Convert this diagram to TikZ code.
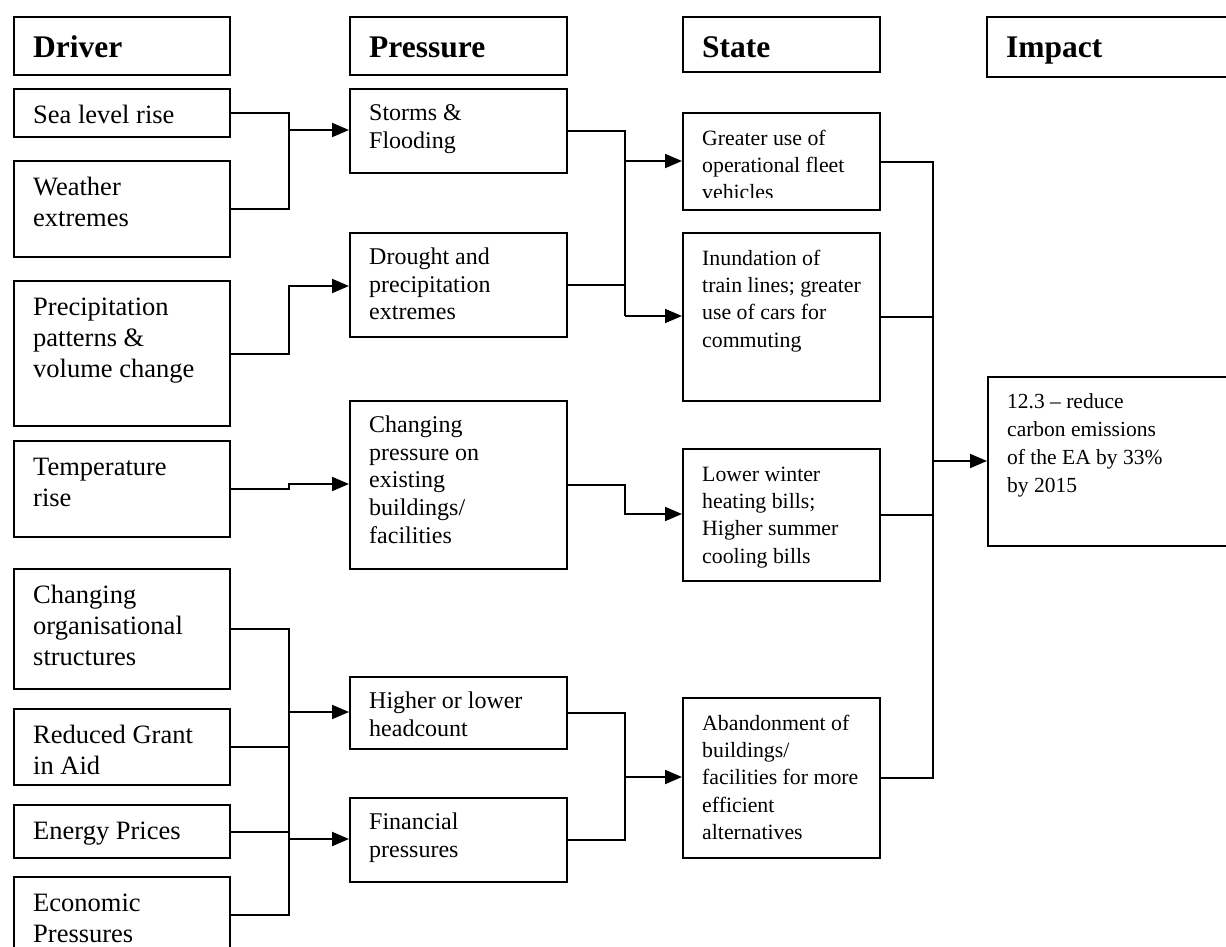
\documentclass[tikz,border=0pt]{standalone}
\usepackage{fontspec}
\setmainfont{Liberation Serif}
\usetikzlibrary{arrows.meta}

% \cell{name}{text style}{x1}{y1}{x2}{y2}{text}: framed box with top-left text
\newcommand\cell[7]{%
  \node[frame, anchor=north west, minimum width={#5-#3}, minimum height={#6-#4}] (#1) at (#3,#4) {};
  \node[lbl, #2] (#1-t) at ([xshift=20pt]#1.north west) {\strut #7};
}

\begin{document}
\begin{tikzpicture}[x=1pt, y=-1pt,
  frame/.style={draw, rectangle, line width=2pt, inner sep=0pt},
  lbl/.style={anchor=north west, align=left, inner sep=0pt},
  link/.style={line width=2pt},
  flow/.style={link, -{Triangle[length=17pt, width=14pt]}},
  hdr/.style={font=\bfseries\fontsize{31.5}{36}\selectfont, yshift=-15.8pt},
  drv/.style={font=\fontsize{26.5}{31}\selectfont, yshift=-13.3pt},
  prs/.style={font=\fontsize{24}{27.7}\selectfont, yshift=-12.9pt},
  sta/.style={font=\fontsize{21.8}{27.3}\selectfont, yshift=-13.8pt},
  imp/.style={font=\fontsize{21.5}{28}\selectfont, yshift=-12.4pt}]

\useasboundingbox (0,0) rectangle (1226,947);
\clip (0,0) rectangle (1226,947);

% column headers
\cell{hD}{hdr}{13}{16}{229}{74}{Driver}
\cell{hP}{hdr}{349}{16}{566}{74}{Pressure}
\cell{hS}{hdr}{682}{16}{879}{71}{State}
\cell{hI}{hdr}{986}{16}{1250}{76}{Impact}

% drivers
\cell{sea}{drv}{13}{88}{229}{136}{Sea level rise}
\cell{weather}{drv}{13}{160}{229}{256}{Weather\\extremes}
\cell{precip}{drv}{13}{280}{229}{425}{Precipitation\\patterns \&\\volume change}
\cell{temp}{drv}{13}{440}{229}{536}{Temperature\\rise}
\cell{org}{drv}{13}{568}{229}{688}{Changing\\organisational\\structures}
\cell{grant}{drv}{13}{708}{229}{784}{Reduced Grant\\in Aid}
\cell{energy}{drv}{13}{804}{229}{857}{Energy Prices}
\cell{econ}{drv}{13}{876}{229}{952}{Economic\\Pressures}

% pressures
\cell{storms}{prs}{349}{88}{566}{172}{Storms \&\\Flooding}
\cell{drought}{prs}{349}{232}{566}{336}{Drought and\\precipitation\\extremes}
\cell{chgp}{prs}{349}{400}{566}{568}{Changing\\pressure on\\existing\\buildings/\\facilities}
\cell{headc}{prs}{349}{676}{566}{748}{Higher or lower\\headcount}
\cell{fin}{prs}{349}{797}{566}{881}{Financial\\pressures}

% states
\node[frame, anchor=north west, minimum width=197, minimum height=97] (greater) at (682,112) {};
\begin{scope}
  \clip (682,112) rectangle (879,197);
  \node[lbl, sta] (greater-t) at ([xshift=20pt]greater.north west)
    {\strut Greater use of\\operational fleet\\vehicles};
\end{scope}
\cell{inund}{sta}{682}{232}{879}{400}{Inundation of\\train lines; greater\\use of cars for\\commuting}
\cell{lower}{sta}{682}{448}{879}{580}{Lower winter\\heating bills;\\Higher summer\\cooling bills}
\cell{aband}{sta}{682}{697}{879}{857}{Abandonment of\\buildings/\\facilities for more\\efficient\\alternatives}

% impact
\cell{impact}{imp}{987}{376}{1250}{545}{12.3 -- reduce\\carbon emissions\\of the EA by 33\%\\by 2015}

% junction points of the connector buses
\coordinate (b1) at (289,130);
\coordinate (b2) at (289,286);
\coordinate (b3) at (289,484);
\coordinate (b4) at (289,712);
\coordinate (b5) at (289,839);
\coordinate (c1) at (625,161);
\coordinate (c2) at (625,316);
\coordinate (c3) at (625,514);
\coordinate (c4) at (625,777);
\coordinate (d1) at (933,461);

% drivers -> pressures
\draw[link] (sea.east) -| (b1);
\draw[link] (weather.east) -| (b1);
\draw[flow] (b1) -- (b1 -| storms.west);
\draw[flow] (precip.east) -| (b2) -- (b2 -| drought.west);
\draw[flow] (temp.east) -| (b3) -- (b3 -| chgp.west);
\draw[link] (org.east) -| (b4) -- (b5);
\draw[link] (econ.east) -| (b5);
\draw[link] (grant.east) -- (grant.east -| b4);
\draw[link] (energy.east) -- (energy.east -| b4);
\draw[flow] (b4) -- (b4 -| headc.west);
\draw[flow] (b5) -- (b5 -| fin.west);

% pressures -> states
\draw[link] (storms.east) -| (c2);
\draw[link] (drought.east) -- (drought.east -| c1);
\draw[flow] (c1) -- (c1 -| greater.west);
\draw[flow] (c2) -- (c2 -| inund.west);
\draw[flow] (chgp.east) -| (c3) -- (c3 -| lower.west);
\draw[link] (headc.east) -| (c4);
\draw[link] (fin.east) -| (c4);
\draw[flow] (c4) -- (c4 -| aband.west);

% states -> impact
\draw[link] (greater.east) -| (d1);
\draw[link] (aband.east) -| (d1);
\draw[link] (inund.east) -- (inund.east -| d1);
\draw[link] (lower.east) -- (lower.east -| d1);
\draw[flow] (d1) -- (d1 -| impact.west);

\end{tikzpicture}
\end{document}
